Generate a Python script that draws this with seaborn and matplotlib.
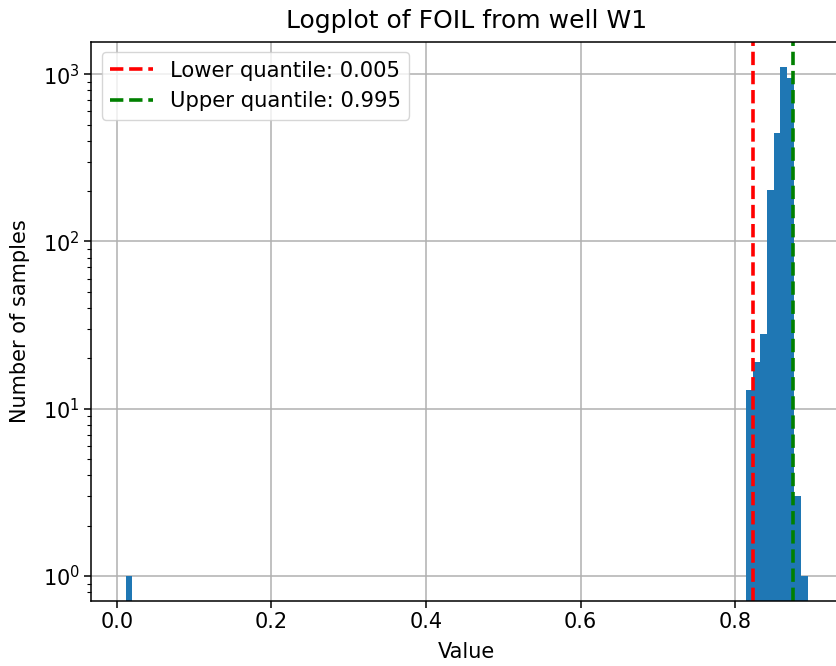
import numpy as np
import pandas as pd
import matplotlib
matplotlib.use("Agg")
import matplotlib.pyplot as plt
import seaborn as sns

# ---- data ----
value_min = 0.0115
value_max = 0.894
n_bins = 100
bin_index = [0, 91, 92, 93, 94, 95, 96, 97, 98, 99]
bin_count = [1, 13, 19, 28, 203, 444, 1103, 948, 3, 1]
lower_q_level = 0.005
upper_q_level = 0.995
lower_q_value = 0.8235
upper_q_value = 0.8745
title = "Logplot of FOIL from well W1"
xlabel = "Value"
ylabel = "Number of samples"

edges = np.linspace(value_min, value_max, n_bins + 1)
centers = (edges[:-1] + edges[1:]) / 2
df = pd.DataFrame({"value": centers[bin_index], "count": bin_count})

plt.rcParams.update({
    "font.family": ["DejaVu Sans"],
    "font.size": 15,
    "axes.titlesize": 18,
    "axes.labelsize": 15,
    "xtick.labelsize": 15,
    "ytick.labelsize": 15,
    "legend.fontsize": 15.2,
    "axes.linewidth": 1.1,
    "xtick.major.width": 1.1,
    "ytick.major.width": 1.1,
    "xtick.major.size": 4.7,
    "ytick.major.size": 4.7,
    "ytick.minor.size": 2.7,
    "ytick.minor.width": 0.8,
})

fig = plt.figure(figsize=(8.37, 6.66), dpi=100)
ax = fig.add_axes([91.5 / 837, 1 - 600.7 / 666, (841.8 - 91.5) / 837, (600.7 - 41.7) / 666])

sns.histplot(data=df, x="value", weights="count", bins=n_bins,
             binrange=(value_min, value_max), ax=ax,
             color="#1f77b4", alpha=1, linewidth=0)
ax.set_yscale("log")

ax.axvline(lower_q_value, color="red", linestyle="--", linewidth=2.6,
           label=f"Lower quantile: {lower_q_level}")
ax.axvline(upper_q_value, color="green", linestyle="--", linewidth=2.6,
           label=f"Upper quantile: {upper_q_level}")

ax.set_xlim(-0.0326, 0.938)
ax.set_ylim(0.712, 1563)
ax.grid(True, color="#b0b0b0", linewidth=1.1)
ax.set_axisbelow(True)
ax.set_xticks([0.0, 0.2, 0.4, 0.6, 0.8])
ax.set_title(title, pad=10)
ax.set_xlabel(xlabel, labelpad=7)
ax.set_ylabel(ylabel, labelpad=9)
ax.legend(loc="upper left", framealpha=0.8, handlelength=2.0)

fig.savefig("out.png", dpi=100)
